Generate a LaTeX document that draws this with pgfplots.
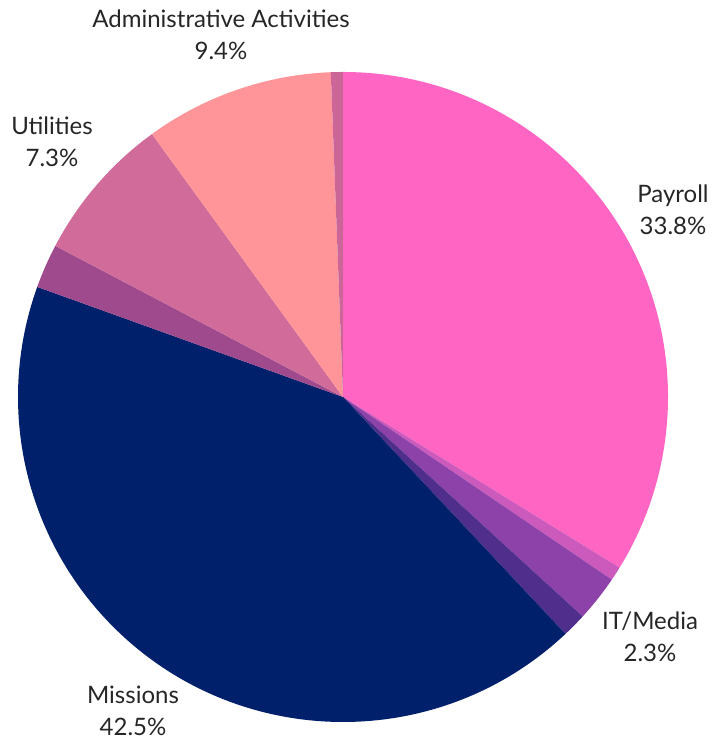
\documentclass[border=0pt]{standalone}
\usepackage{pgfplots}
\pgfplotsset{compat=1.18}
\usepackage{pgfplotstable}
\usepackage{fontspec}
\setmainfont{Lato}

\definecolor{cPayroll}{HTML}{FF66C4}
\definecolor{cThinA}{HTML}{CC5ABC}
\definecolor{cIT}{HTML}{8C42A8}
\definecolor{cDarkPurple}{HTML}{4F2E8C}
\definecolor{cMissions}{HTML}{00206B}
\definecolor{cPurple}{HTML}{A04A8E}
\definecolor{cUtilities}{HTML}{D16C9A}
\definecolor{cAdmin}{HTML}{FF9499}
\definecolor{cThinB}{HTML}{CC6699}
\definecolor{labeltext}{HTML}{262626}

% shares in percent, clockwise from 12 o'clock
\pgfplotstableread{
share colour
33.8 cPayroll
0.7  cThinA
2.3  cIT
1.2  cDarkPurple
42.5 cMissions
2.2  cPurple
7.3  cUtilities
9.4  cAdmin
0.6  cThinB
}\piedata

\tikzset{pielabel/.style={font=\fontsize{12}{16}\selectfont, text=labeltext, align=center, inner sep=0pt}}

\begin{document}
\begin{tikzpicture}
\begin{axis}[
    at={(0,0)}, anchor=south west,
    x=0.5pt, y=0.5pt,
    xmin=0, xmax=713, ymin=0, ymax=742,
    hide axis, clip=false,
]
\pgfplotstablegetrowsof{\piedata}
\pgfmathtruncatemacro\lastrow{\pgfplotsretval-1}
\gdef\cum{0}
\pgfplotsforeachungrouped \i in {0,...,\lastrow}{
  \pgfplotstablegetelem{\i}{share}\of\piedata
  \pgfmathsetmacro\startA{90-3.6*\cum}
  \pgfmathsetmacro\endA{90-3.6*(\cum+\pgfplotsretval)}
  \pgfmathsetmacro\newcum{\cum+\pgfplotsretval}
  \xdef\cum{\newcum}
  \pgfplotstablegetelem{\i}{colour}\of\piedata
  \edef\slice{\noexpand\fill[\pgfplotsretval] (axis cs:343,345) -- ++(\startA:162.5pt)
    arc[start angle=\startA, end angle=\endA, radius=162.5pt] -- cycle;}
  \slice
}
\node[pielabel] at (axis cs:221,707) {Administrative Activities\\9.4\%};
\node[pielabel] at (axis cs:52,600) {Utilities\\7.3\%};
\node[pielabel] at (axis cs:673,532) {Payroll\\33.8\%};
\node[pielabel] at (axis cs:650,105) {IT/Media\\2.3\%};
\node[pielabel] at (axis cs:133,31) {Missions\\42.5\%};
\end{axis}
\pgfresetboundingbox
\path (0,0) rectangle (356.5pt,371pt);
\end{tikzpicture}
\end{document}
